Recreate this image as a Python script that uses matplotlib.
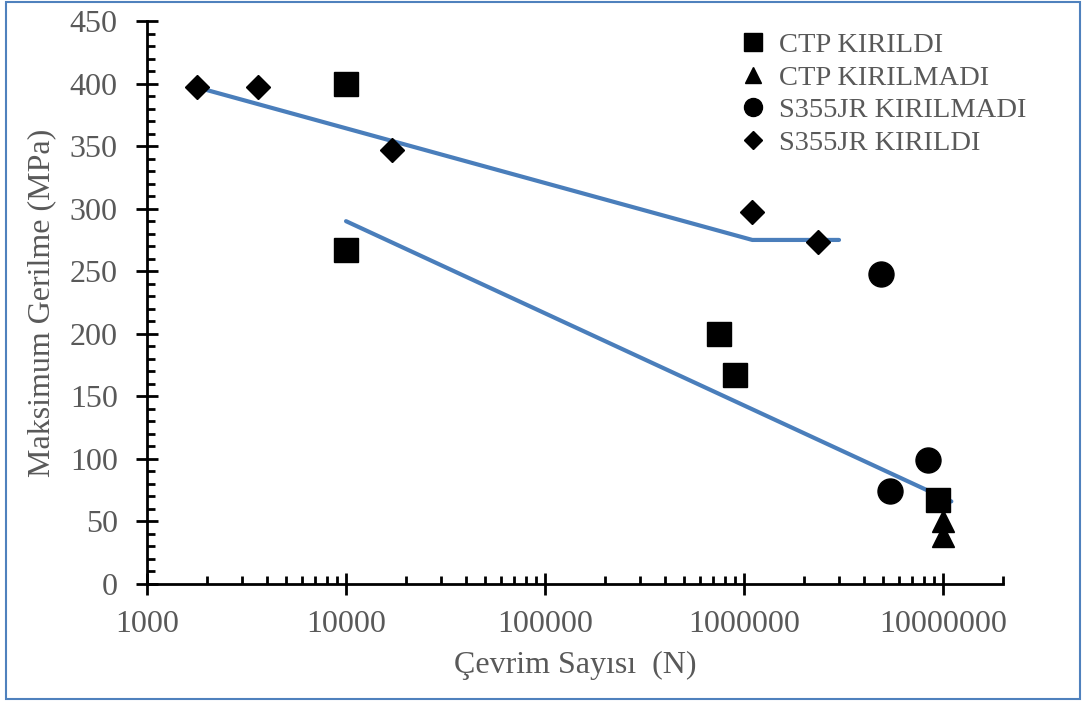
import numpy as np
import matplotlib.pyplot as plt
from matplotlib.ticker import FixedLocator, MultipleLocator, LogLocator, NullFormatter
from matplotlib.patches import Rectangle

# ---------------------------------------------------------------------------
# DATA
# ---------------------------------------------------------------------------
ctp_kirildi_n = [10000, 10000, 750000, 900000, 9400000]
ctp_kirildi_s = [400, 267, 200, 167, 67]

ctp_kirilmadi_n = [10000000, 10000000]
ctp_kirilmadi_s = [50, 38]

s355_kirilmadi_n = [4900000, 8400000, 5400000]
s355_kirilmadi_s = [248, 99, 74]

s355_kirildi_n = [1780, 3600, 17000, 1100000, 2360000]
s355_kirildi_s = [397, 397, 347, 297, 273]

# trend lines
s355_trend_n = [1780, 1100000, 3000000]
s355_trend_s = [397, 275, 275]
ctp_trend_n = [10000, 11000000]
ctp_trend_s = [290, 66]

LINE_BLUE = '#4A7EBB'
GREY = '#595959'

plt.rcParams['font.family'] = ['Liberation Serif', 'DejaVu Serif']

fig = plt.figure(figsize=(10.84, 7.02), dpi=100)
ax = fig.add_axes([147 / 1084, 118 / 702, (1003 - 147) / 1084, 563 / 702])

ax.plot(s355_trend_n, s355_trend_s, color=LINE_BLUE, lw=3, solid_capstyle='round', zorder=2)
ax.plot(ctp_trend_n, ctp_trend_s, color=LINE_BLUE, lw=3, solid_capstyle='round', zorder=2)

ax.plot(ctp_kirildi_n, ctp_kirildi_s, 's', color='black', ms=17.5, ls='none',
        label='CTP KIRILDI', zorder=3)
ax.plot(ctp_kirilmadi_n, ctp_kirilmadi_s, '^', color='black', ms=16, ls='none',
        label='CTP KIRILMADI', zorder=3)
ax.plot(s355_kirilmadi_n, s355_kirilmadi_s, 'o', color='black', ms=18, ls='none',
        label='S355JR KIRILMADI', zorder=3)
ax.plot(s355_kirildi_n, s355_kirildi_s, 'D', color='black', ms=12.5, ls='none',
        label='S355JR KIRILDI', zorder=3)

ax.set_xscale('log')
ax.set_xlim(1000, 2e7)
ax.set_ylim(0, 450)

ax.xaxis.set_major_locator(FixedLocator([1e3, 1e4, 1e5, 1e6, 1e7]))
ax.xaxis.set_major_formatter(plt.FuncFormatter(lambda v, p: f'{int(round(v))}'))
ax.xaxis.set_minor_locator(LogLocator(base=10, subs=np.arange(2, 10)))
ax.xaxis.set_minor_formatter(NullFormatter())
ax.yaxis.set_major_locator(MultipleLocator(50))
ax.yaxis.set_minor_locator(MultipleLocator(10))

for side in ['top', 'right']:
    ax.spines[side].set_visible(False)
for side in ['left', 'bottom']:
    ax.spines[side].set_linewidth(2)
    ax.spines[side].set_color('black')

ax.tick_params(which='major', direction='inout', length=16, width=2, color='black',
               labelsize=23, labelcolor=GREY)
ax.tick_params(which='minor', direction='in', length=6, width=2, color='black')
ax.tick_params(axis='x', which='major', pad=11)
ax.tick_params(axis='y', which='major', pad=13)

ax.set_xlabel('Çevrim Sayısı  (N)', fontsize=23, color=GREY, labelpad=8)
ax.set_ylabel('Maksimum Gerilme (MPa)', fontsize=23, color=GREY, labelpad=10)

leg = ax.legend(loc='upper left', bbox_to_anchor=(0.678, 1.0), frameon=False,
                fontsize=20.5, labelcolor=GREY, numpoints=1, handlelength=1.0,
                handletextpad=0.42, labelspacing=0.23, borderaxespad=0,
                markerscale=0.72)

# blue outer frame of the chart area
fig.patches.append(Rectangle((6 / 1084, 3 / 702), 1 - 10 / 1084, 1 - 5 / 702,
                             transform=fig.transFigure, fill=False,
                             edgecolor='#4F81BD', lw=1.5))

fig.savefig('out.png', dpi=100)
